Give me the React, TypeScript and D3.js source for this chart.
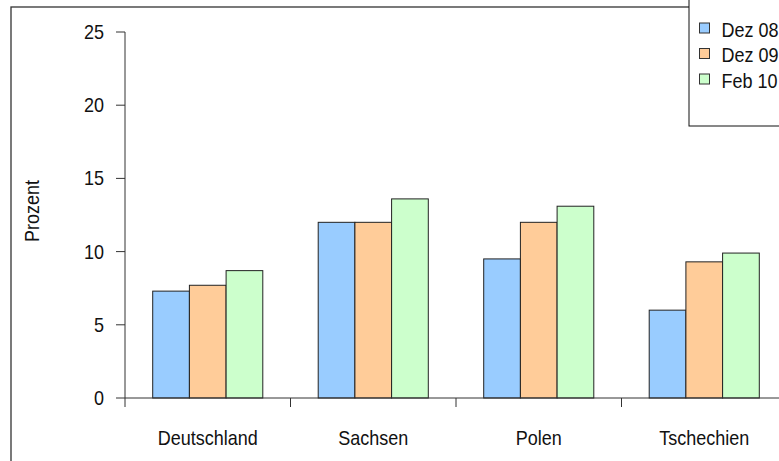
import React from "react";
import * as d3 from "d3";

const categories = ["Deutschland", "Sachsen", "Polen", "Tschechien"];
const seriesNames = ["Dez 08", "Dez 09", "Feb 10"];
const dez08 = [7.3, 12.0, 9.5, 6.0];
const dez09 = [7.7, 12.0, 12.0, 9.3];
const feb10 = [8.7, 13.6, 13.1, 9.9];
const yTicks = [0, 5, 10, 15, 20, 25];
const colors = ["#99CCFF", "#FFCC99", "#CCFFCC"];

const W = 779;
const H = 461;
const FONT = "'Liberation Sans', Arial, sans-serif";
const FS = 20;
const SX = 0.9;

function T(props: { x: number; y: number; anchor?: string; rotate?: number; children: React.ReactNode }) {
  const { x, y, anchor = "start", rotate = 0, children } = props;
  return (
    <g transform={`translate(${x},${y}) rotate(${rotate}) scale(${SX},1)`}>
      <text x={0} y={0} textAnchor={anchor} fontSize={FS} fill="#111">
        {children}
      </text>
    </g>
  );
}

export default function App() {
  const series = [dez08, dez09, feb10];
  const x0 = 125;
  const step = 165.5;
  const x = d3
    .scaleBand<string>()
    .domain(categories)
    .range([x0, x0 + step * categories.length])
    .paddingInner(0)
    .paddingOuter(0);
  const xs = d3
    .scaleBand<string>()
    .domain(seriesNames)
    .range([0, x.bandwidth()])
    .paddingInner(0)
    .paddingOuter(0.755);
  const y = d3.scaleLinear().domain([0, 25]).range([398, 32]);
  const stroke = "#333";

  return (
    <svg
      width={W}
      height={H}
      style={{ position: "absolute", left: 0, top: 0, display: "block", background: "#fff" }}
      fontFamily={FONT}
    >
      <rect x={11} y={7} width={W + 20} height={H + 20} fill="#fff" stroke="#333" strokeWidth={1.3} />
      {categories.map((c, ci) =>
        series.map((s, si) => (
          <rect
            key={c + si}
            x={(x(c) as number) + (xs(seriesNames[si]) as number)}
            y={y(s[ci])}
            width={xs.bandwidth()}
            height={y(0) - y(s[ci])}
            fill={colors[si]}
            stroke="#222"
            strokeWidth={1}
          />
        ))
      )}
      <line x1={x0} x2={x0} y1={y(25)} y2={y(0)} stroke={stroke} strokeWidth={1} />
      {yTicks.map((t) => (
        <g key={t}>
          <line x1={116} x2={x0} y1={y(t)} y2={y(t)} stroke={stroke} strokeWidth={1} />
          <T x={104} y={y(t) + 7} anchor="end">
            {t}
          </T>
        </g>
      ))}
      <line x1={x0} x2={W + 10} y1={y(0)} y2={y(0)} stroke={stroke} strokeWidth={1} />
      {categories.map((c) => (
        <g key={c}>
          <line x1={x(c) as number} x2={x(c) as number} y1={y(0)} y2={y(0) + 9} stroke={stroke} strokeWidth={1} />
          <T x={(x(c) as number) + x.bandwidth() / 2} y={445} anchor="middle">
            {c}
          </T>
        </g>
      ))}
      <T x={39} y={211} anchor="middle" rotate={-90}>
        Prozent
      </T>
      <rect x={689} y={-2} width={120} height={128} fill="#fff" stroke="#111" strokeWidth={1} />
      {seriesNames.map((n, i) => (
        <g key={n}>
          <rect x={699.5} y={23 + i * 25.5} width={10} height={10} fill={colors[i]} stroke="#333" strokeWidth={1} />
          <T x={721.5} y={36.5 + i * 25.5}>
            {n}
          </T>
        </g>
      ))}
    </svg>
  );
}
